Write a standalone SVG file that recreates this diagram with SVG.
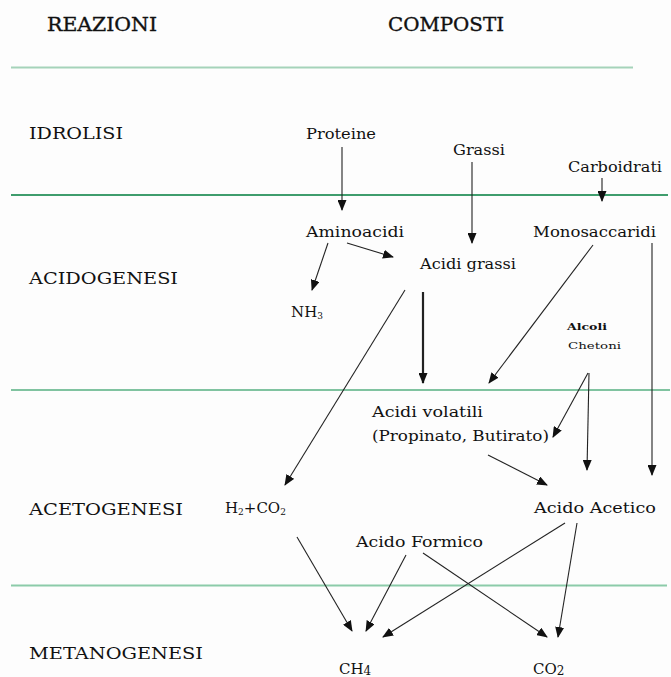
<svg xmlns="http://www.w3.org/2000/svg" width="671" height="677" viewBox="0 0 671 677">
  <style>
    .t { font-family: "DejaVu Serif", "Liberation Serif", serif; fill: #111; }
    .hdr { font-size: 19px; stroke: #111; stroke-width: 0.35; }
    .phase { font-size: 17px; }
    .cmp { font-size: 15px; }
    .small { font-size: 10px; }
    .sub { font-size: 9px; }
    .edge { stroke: #222; stroke-width: 1.1; fill: none; marker-end: url(#arrow); }
    .edge.heavy { stroke-width: 2.2; }
  </style>
  <defs>
    <marker id="arrow" markerUnits="userSpaceOnUse" markerWidth="11" markerHeight="9" refX="10" refY="4.5" orient="auto">
      <path d="M0,0 L11,4.5 L0,9 z" fill="#111"/>
    </marker>
  </defs>

  <rect width="671" height="677" fill="#fdfdfd"/>

  <!-- phase separators -->
  <g id="separators">
    <line x1="11" y1="67.5" x2="633" y2="67.5" stroke="#a5d3ba" stroke-width="2"/>
    <line x1="11" y1="195" x2="668" y2="195" stroke="#3f9d6d" stroke-width="2.2"/>
    <line x1="11" y1="390" x2="670" y2="390" stroke="#80c3a0" stroke-width="2"/>
    <line x1="11" y1="585.5" x2="667" y2="585.5" stroke="#8ccba9" stroke-width="2"/>
  </g>

  <!-- column headers -->
  <g id="headers">
    <text class="t hdr" x="47" y="31" textLength="110" lengthAdjust="spacingAndGlyphs">REAZIONI</text>
    <text class="t hdr" x="388" y="31" textLength="116" lengthAdjust="spacingAndGlyphs">COMPOSTI</text>
  </g>

  <!-- phase names -->
  <g id="phases">
    <text class="t phase" x="29" y="139" textLength="94" lengthAdjust="spacingAndGlyphs">IDROLISI</text>
    <text class="t phase" x="29" y="284" textLength="149" lengthAdjust="spacingAndGlyphs">ACIDOGENESI</text>
    <text class="t phase" x="29" y="515" textLength="154" lengthAdjust="spacingAndGlyphs">ACETOGENESI</text>
    <text class="t phase" x="29" y="659" textLength="174" lengthAdjust="spacingAndGlyphs">METANOGENESI</text>
  </g>

  <!-- compounds -->
  <g id="proteine"><text class="t cmp" x="306" y="139" textLength="70" lengthAdjust="spacingAndGlyphs">Proteine</text></g>
  <g id="grassi"><text class="t cmp" x="453" y="155" textLength="52" lengthAdjust="spacingAndGlyphs">Grassi</text></g>
  <g id="carboidrati"><text class="t cmp" x="568" y="172" textLength="94" lengthAdjust="spacingAndGlyphs">Carboidrati</text></g>
  <g id="aminoacidi"><text class="t cmp" x="306" y="237" textLength="98" lengthAdjust="spacingAndGlyphs">Aminoacidi</text></g>
  <g id="monosaccaridi"><text class="t cmp" x="533" y="237" textLength="123" lengthAdjust="spacingAndGlyphs">Monosaccaridi</text></g>
  <g id="acidi-grassi"><text class="t cmp" x="420" y="269" textLength="96" lengthAdjust="spacingAndGlyphs">Acidi grassi</text></g>
  <g id="nh3"><text class="t cmp" x="291" y="317">NH<tspan class="sub" dy="2">3</tspan></text></g>
  <g id="alcoli-chetoni">
    <text class="t small" x="567" y="330" font-weight="bold" textLength="40" lengthAdjust="spacingAndGlyphs">Alcoli</text>
    <text class="t small" x="568" y="349" textLength="53" lengthAdjust="spacingAndGlyphs">Chetoni</text>
  </g>
  <g id="acidi-volatili">
    <text class="t cmp" x="372" y="417" textLength="111" lengthAdjust="spacingAndGlyphs">Acidi volatili</text>
    <text class="t cmp" x="372" y="441" textLength="177" lengthAdjust="spacingAndGlyphs">(Propinato, Butirato)</text>
  </g>
  <g id="h2-co2"><text class="t cmp" x="225" y="513">H<tspan class="sub" dy="2">2</tspan><tspan dy="-2">+CO</tspan><tspan class="sub" dy="2">2</tspan></text></g>
  <g id="acido-acetico"><text class="t cmp" x="534" y="513" textLength="122" lengthAdjust="spacingAndGlyphs">Acido Acetico</text></g>
  <g id="acido-formico"><text class="t cmp" x="356" y="547" textLength="127" lengthAdjust="spacingAndGlyphs">Acido Formico</text></g>
  <g id="ch4"><text class="t cmp" x="339" y="674">CH<tspan font-size="12" dy="1">4</tspan></text></g>
  <g id="co2"><text class="t cmp" x="533" y="674">CO<tspan font-size="12" dy="1">2</tspan></text></g>

  <!-- connectors -->
  <g id="connectors">
    <line class="edge" x1="342" y1="147" x2="342" y2="210"/>
    <line class="edge" x1="472" y1="162" x2="472" y2="243"/>
    <line class="edge" x1="602" y1="178" x2="602" y2="201"/>
    <line class="edge" x1="328" y1="243" x2="312" y2="290"/>
    <line class="edge" x1="347" y1="243" x2="393" y2="257"/>
    <line class="edge" x1="405" y1="290" x2="285" y2="485"/>
    <line class="edge heavy" x1="423" y1="292" x2="423" y2="383"/>
    <line class="edge" x1="593" y1="245" x2="489" y2="383"/>
    <line class="edge" x1="652" y1="243" x2="652" y2="475"/>
    <line class="edge" x1="588" y1="373" x2="553" y2="437"/>
    <line class="edge" x1="589" y1="373" x2="587" y2="470"/>
    <line class="edge" x1="488" y1="455" x2="547" y2="485"/>
    <line class="edge" x1="297" y1="537" x2="352" y2="631"/>
    <line class="edge" x1="406" y1="555" x2="366" y2="631"/>
    <line class="edge" x1="423" y1="553" x2="547" y2="637"/>
    <line class="edge" x1="565" y1="523" x2="383" y2="637"/>
    <line class="edge" x1="577" y1="523" x2="558" y2="637"/>
  </g>
</svg>
